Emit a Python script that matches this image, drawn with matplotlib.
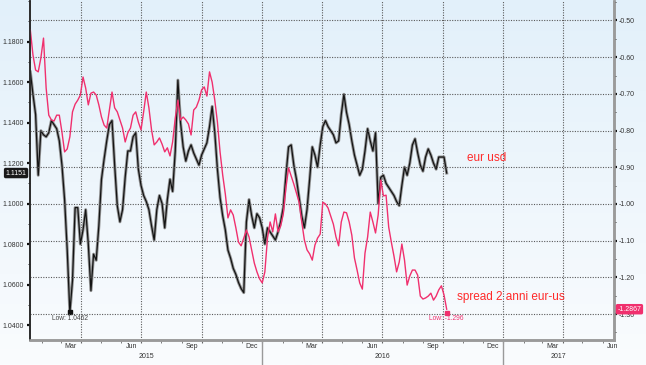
import numpy as np
import pandas as pd
import matplotlib
matplotlib.use("Agg")
import matplotlib.pyplot as plt
import matplotlib.dates as mdates
import matplotlib.transforms as mtransforms
from matplotlib.colors import LinearSegmentedColormap
from matplotlib.ticker import MultipleLocator, FormatStrFormatter, NullFormatter

plt.rcParams["font.family"] = ["Liberation Sans", "DejaVu Sans"]

# dati (campioni ogni 4 giorni)
dates = pd.date_range("2015-01-14", periods=159, freq="4D")

eurusd = [
    1.165, 1.154, 1.144, 1.114, 1.136, 1.134, 1.133, 1.135, 1.141, 1.139,
    1.137, 1.131, 1.119, 1.102, 1.077, 1.0462, 1.062, 1.098, 1.098, 1.080,
    1.087, 1.097, 1.080, 1.057, 1.075, 1.072, 1.089, 1.112, 1.122, 1.131,
    1.139, 1.141, 1.119, 1.099, 1.091, 1.097, 1.113, 1.126, 1.126, 1.133,
    1.135, 1.117, 1.109, 1.104, 1.101, 1.097, 1.089, 1.082, 1.097, 1.104,
    1.100, 1.088, 1.102, 1.112, 1.106, 1.126, 1.161, 1.140, 1.128, 1.121,
    1.126, 1.129, 1.125, 1.122, 1.119, 1.124, 1.127, 1.130, 1.138, 1.148,
    1.135, 1.117, 1.103, 1.094, 1.087, 1.077, 1.073, 1.068, 1.065, 1.061,
    1.058, 1.056, 1.091, 1.102, 1.094, 1.088, 1.095, 1.093, 1.088, 1.080,
    1.088, 1.086, 1.084, 1.082, 1.086, 1.091, 1.098, 1.114, 1.128, 1.129,
    1.119, 1.112, 1.103, 1.094, 1.088, 1.097, 1.112, 1.128, 1.124, 1.118,
    1.129, 1.138, 1.141, 1.138, 1.136, 1.134, 1.130, 1.131, 1.144, 1.154,
    1.145, 1.139, 1.131, 1.124, 1.119, 1.114, 1.117, 1.126, 1.137, 1.131,
    1.126, 1.135, 1.100, 1.113, 1.114, 1.110, 1.108, 1.106, 1.104, 1.101,
    1.099, 1.109, 1.118, 1.114, 1.120, 1.129, 1.132, 1.125, 1.119, 1.116,
    1.123, 1.127, 1.124, 1.120, 1.117, 1.123, 1.123, 1.123, 1.1151,
]

spread = [
    -0.526, -0.594, -0.635, -0.640, -0.602, -0.548, -0.684, -0.758, -0.771, -0.774,
    -0.758, -0.758, -0.804, -0.858, -0.850, -0.817, -0.749, -0.728, -0.717, -0.703,
    -0.654, -0.684, -0.730, -0.698, -0.695, -0.703, -0.730, -0.763, -0.785, -0.793,
    -0.744, -0.695, -0.738, -0.749, -0.771, -0.793, -0.831, -0.806, -0.793, -0.758,
    -0.749, -0.777, -0.798, -0.749, -0.695, -0.738, -0.798, -0.839, -0.831, -0.820,
    -0.837, -0.858, -0.847, -0.869, -0.831, -0.766, -0.717, -0.771, -0.763, -0.771,
    -0.782, -0.812, -0.744, -0.736, -0.717, -0.689, -0.681, -0.706, -0.640, -0.668,
    -0.717, -0.777, -0.858, -0.921, -0.973, -1.038, -1.016, -1.030, -1.065, -1.104,
    -1.114, -1.093, -1.071, -1.090, -1.125, -1.161, -1.185, -1.204, -1.215, -1.185,
    -1.093, -1.049, -1.076, -1.027, -1.076, -1.060, -1.027, -0.956, -0.902, -0.924,
    -0.946, -0.970, -0.995, -1.049, -1.098, -1.125, -1.136, -1.153, -1.112, -1.093,
    -1.082, -0.995, -1.000, -1.011, -1.033, -1.055, -1.090, -1.114, -1.049, -1.022,
    -1.024, -1.049, -1.085, -1.147, -1.180, -1.215, -1.232, -1.134, -1.090, -1.022,
    -1.049, -1.079, -1.030, -0.935, -0.978, -0.976, -1.063, -1.104, -1.142, -1.185,
    -1.158, -1.109, -1.153, -1.221, -1.196, -1.180, -1.180, -1.194, -1.251, -1.259,
    -1.256, -1.251, -1.243, -1.262, -1.251, -1.234, -1.223, -1.248, -1.2867,
]

left_ticks = [1.04, 1.06, 1.08, 1.10, 1.12, 1.14, 1.16, 1.18]
right_ticks = [-0.5, -0.6, -0.7, -0.8, -0.9, -1.0, -1.1, -1.2, -1.3]
month_names = {3: "Mar", 6: "Jun", 9: "Sep", 12: "Dec"}
years = [2015, 2016, 2017]

eur_low = 1.0462
spread_low = -1.296
eur_last = eurusd[-1]
spread_last = spread[-1]

x_start = pd.Timestamp("2015-01-13 12:00")
x_end = pd.Timestamp("2017-06-18")

PINK = "#f0306e"
GRID = "#5a5a5a"
TXT = "#333333"

fig = plt.figure(figsize=(6.46, 3.65), dpi=100)

# sfondo sfumato azzurro
bg = fig.add_axes([0, 0, 1, 1], zorder=-10)
grad = np.linspace(0, 1, 256).reshape(-1, 1)
cmap = LinearSegmentedColormap.from_list("bg", ["#e2f0fa", "#fafcfe"])
bg.imshow(grad, aspect="auto", cmap=cmap, extent=[0, 1, 0, 1])
bg.axis("off")

ax = fig.add_axes([30 / 646, 25 / 365, 584 / 646, 339 / 365])
ax.patch.set_visible(False)
ax2 = ax.twinx()
ax2.patch.set_visible(False)

# eur usd (barre grigie + chiusura nera)
ax.plot(dates, eurusd, color="#8a8a8a", linewidth=2.2, alpha=0.9)
ax.plot(dates, eurusd, color="#141414", linewidth=0.9)
ax.plot(dates[15], eur_low, marker="s", markersize=2.5, color="#111111")

# spread 2 anni
ax2.plot(dates, spread, color=PINK, linewidth=1.0)
ax2.plot(dates[-1], spread_low, marker="s", markersize=2.5, color=PINK)

ax.set_xlim(x_start, x_end)
ax.set_ylim(1.0326, 1.2001)
ax2.set_ylim(-1.3706, -0.4469)

ax.set_yticks(left_ticks)
ax.yaxis.set_major_formatter(FormatStrFormatter("%.4f"))
ax.yaxis.set_minor_locator(MultipleLocator(0.01))
ax2.set_yticks(right_ticks)
ax2.yaxis.set_major_formatter(FormatStrFormatter("%.2f"))
ax2.yaxis.set_minor_locator(MultipleLocator(0.05))

ax.xaxis.set_major_locator(mdates.MonthLocator(bymonth=[1, 4, 7, 10]))
ax.xaxis.set_minor_locator(mdates.MonthLocator())
ax.xaxis.set_major_formatter(NullFormatter())
ax.xaxis.set_minor_formatter(NullFormatter())
ax.tick_params(axis="x", which="major", length=2.5, width=0.8, color="#666666")
ax.tick_params(axis="x", which="minor", length=1.8, width=0.6, color="#666666")

ax.tick_params(axis="y", which="major", length=2.4, width=1.6, color="#111111",
               labelsize=5, labelcolor=TXT, pad=2.2)
ax.tick_params(axis="y", which="minor", length=1.5, width=0.7, color="#333333")
ax2.tick_params(axis="y", which="major", length=2.4, width=1.6, color="#111111",
                labelsize=5, labelcolor=TXT, pad=1.2)
ax2.tick_params(axis="y", which="minor", length=1.5, width=0.7, color="#333333")

# griglia tratteggiata
ax.grid(axis="x", which="major", color=GRID, linestyle=(0, (1, 1.3)), linewidth=0.8)
ax2.grid(axis="y", which="major", color=GRID, linestyle=(0, (1, 1.3)), linewidth=0.8)

for a in (ax, ax2):
    a.spines["top"].set_visible(False)
    a.spines["left"].set_color("#2a2a2a")
    a.spines["left"].set_linewidth(1.2)
    a.spines["right"].set_color("#9a9a9a")
    a.spines["right"].set_linewidth(1.8)
    a.spines["bottom"].set_color("#9a9a9a")
    a.spines["bottom"].set_linewidth(1.8)

# etichette mesi e anni
trans = mtransforms.blended_transform_factory(ax.transData, ax.transAxes)
for y in years:
    for m, name in month_names.items():
        d = pd.Timestamp(y, m, 16)
        if x_start <= d <= x_end:
            ax.text(d, -0.019, name, transform=trans, ha="center", va="center",
                    fontsize=5, color=TXT)
    y0 = max(pd.Timestamp(y, 1, 1), x_start)
    y1 = min(pd.Timestamp(y + 1, 1, 1), x_end)
    ax.text(y0 + (y1 - y0) / 2, -0.05, str(y), transform=trans, ha="center",
            va="center", fontsize=5, color=TXT)
    if y > 2015:
        ax.plot([pd.Timestamp(y, 1, 1)] * 2, [0, -0.075], transform=trans,
                color="#9a9a9a", linewidth=1.0, clip_on=False)

# etichette minimo
ax.annotate(f"Low: {eur_low:.4f}", (dates[15], eur_low), xytext=(0, -1.8),
            textcoords="offset points", ha="center", va="top", fontsize=4.8,
            color="#444444")
ax2.annotate(f"Low: {spread_low:.3f}", (dates[-1], spread_low), xytext=(0, -1.8),
             textcoords="offset points", ha="center", va="top", fontsize=4.8,
             color=PINK)

# ultimo valore
ltrans = mtransforms.blended_transform_factory(ax.transAxes, ax.transData)
ax.text(-0.006, eur_last, f"{eur_last:.4f}", transform=ltrans, ha="right",
        va="center", fontsize=5, color="white", clip_on=False,
        bbox=dict(boxstyle="round,pad=0.25", fc="#1a1a1a", ec="none"))
rtrans = mtransforms.blended_transform_factory(ax2.transAxes, ax2.transData)
ax2.text(1.006, spread_last, f"{spread_last:.4f}", transform=rtrans, ha="left",
         va="center", fontsize=5, color="white", clip_on=False, zorder=5,
         bbox=dict(boxstyle="round,pad=0.25", fc=PINK, ec="none"))

# testi
ax.text(0.748, 0.537, "eur usd", transform=ax.transAxes, fontsize=8.5,
        color="#ff2a2a", va="center", ha="left")
ax.text(0.731, 0.127, "spread 2 anni eur-us", transform=ax.transAxes,
        fontsize=8.5, color="#ff2a2a", va="center", ha="left")

fig.savefig("out.png", dpi=100)
